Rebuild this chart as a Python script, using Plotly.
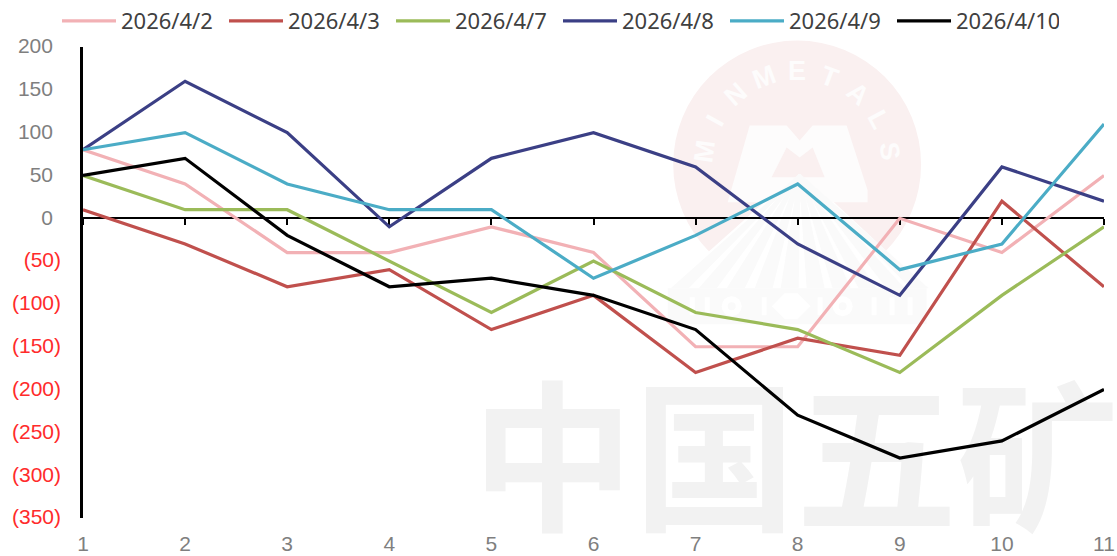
import math
import plotly.graph_objects as go

categories = [1, 2, 3, 4, 5, 6, 7, 8, 9, 10, 11]
d0402 = [80, 40, -40, -40, -10, -40, -150, -150, 0, -40, 50]
d0403 = [10, -30, -80, -60, -130, -90, -180, -140, -160, 20, -80]
d0407 = [50, 10, 10, -50, -110, -50, -110, -130, -180, -90, -10]
d0408 = [80, 160, 100, -10, 70, 100, 60, -30, -90, 60, 20]
d0409 = [80, 100, 40, 10, 10, -70, -20, 40, -60, -30, 110]
d0410 = [50, 70, -20, -80, -70, -90, -130, -230, -280, -260, -200]
series_names = ["2026/4/2", "2026/4/3", "2026/4/7", "2026/4/8", "2026/4/9", "2026/4/10"]
series_values = [d0402, d0403, d0407, d0408, d0409, d0410]
series_colors = ["#F2B1B5", "#C0504D", "#9BBB59", "#3B3F85", "#4BACC6", "#000000"]
y_ticks = [200, 150, 100, 50, 0, -50, -100, -150, -200, -250, -300, -350]

W, H = 1117, 556
L, R, T, B = 83, 1104.5, 46.5, 518
YMIN, YMAX = -350, 200


def px(x):
    return (x - L) / (R - L)


def py(y):
    return (B - y) / (B - T)


def dx(x):
    return 1 + (x - L) / (R - L) * 10


def dy(y):
    return YMIN + (B - y) / (B - T) * (YMAX - YMIN)


def poly(points, fill):
    path = "M " + " L ".join(f"{px(a):.5f},{py(b):.5f}" for a, b in points) + " Z"
    return dict(type="path", path=path, xref="paper", yref="paper", fillcolor=fill,
                line=dict(width=0), layer="below")


def circle(cx, cy, r, fill):
    return dict(type="circle", xref="paper", yref="paper", x0=px(cx - r), x1=px(cx + r),
                y0=py(cy + r), y1=py(cy - r), fillcolor=fill, line=dict(width=0), layer="below")


def rect(x0, y0, x1, y1, fill):
    return poly([(x0, y0), (x1, y0), (x1, y1), (x0, y1)], fill)


PINK, GRAY, MW = "#FAF0F0", "#FAFAFA", "#FDFCFC"
apex = (800, 170)
shapes = [
    circle(797.5, 164, 124, PINK),
    poly([apex, (668, 288), (668, 330), (927, 330), (927, 288)], "#FFFFFF"),
    # M emblem
    poly([(728, 202), (750, 125), (787, 125), (800, 140), (813, 125), (847, 125), (868, 190), (868, 202)], MW),
    poly([(772, 177), (787, 147), (800, 157), (813, 147), (825, 177)], PINK),
]
# fan rays
for i, xb in enumerate([680, 708, 736, 764, 790, 816, 842, 868, 896, 920]):
    shapes.append(poly([(apex[0] - 1, apex[1] + 4), (apex[0] + 1, apex[1] + 4), (xb + 9, 288), (xb - 9, 288)], GRAY))
# base band and its ornaments
shapes.append(rect(668, 288, 927, 324, GRAY))
for cx in [732, 843]:
    shapes.append(circle(cx, 306, 10, "#FFFFFF"))
    shapes.append(circle(cx, 306, 4, GRAY))
shapes.append(poly([(772, 306), (785, 293), (798, 293), (811, 306), (798, 319), (785, 319)], "#FFFFFF"))
for xb in [690, 705, 762, 818, 872, 890, 908]:
    shapes.append(rect(xb, 297, xb + 5, 315, "#FFFFFF"))

annotations = []
letters = "MINMETALS"
for i, ch in enumerate(letters):
    ang = math.radians(-82 + i * 20.5)
    annotations.append(dict(
        text=ch, xref="paper", yref="paper", x=px(797.5 + 93 * math.sin(ang)),
        y=py(164 - 93 * math.cos(ang)), showarrow=False, textangle=math.degrees(ang),
        font=dict(family="Liberation Sans", size=27, color="#FDFCFC", weight=700),
        xanchor="center", yanchor="middle"))

fig = go.Figure()

wm_chars = ["中", "国", "五", "矿"]
wm_x = [dx(v) for v in (553, 715, 877, 1038)]
wm_y = [dy(478)] * 4
fig.add_trace(go.Scatter(
    x=wm_x, y=wm_y, mode="text", text=wm_chars, textposition="middle center", cliponaxis=False,
    textfont=dict(family="Noto Sans CJK SC", size=162, color="#F2F2F2", weight=700),
    showlegend=False, hoverinfo="skip"))

for name, vals, col in zip(series_names, series_values, series_colors):
    fig.add_trace(go.Scatter(x=categories, y=vals, name=name, mode="lines",
                             line=dict(color=col, width=3.2)))

fig.add_trace(go.Scatter(x=[], y=[], xaxis="x2", yaxis="y", showlegend=False, hoverinfo="skip"))


def label(v):
    if v < 0:
        return f'<span style="color:#FF2B2B">({abs(v)})</span>'
    return f'{v}<span style="font-size:29px">&nbsp;</span>'


fig.update_layout(
    width=W, height=H, autosize=False,
    paper_bgcolor="white", plot_bgcolor="rgba(0,0,0,0)",
    margin=dict(l=L, r=W - R, t=T, b=H - B, pad=0, autoexpand=False),
    font=dict(family="Liberation Sans", size=21, color="#7F7F7F"),
    shapes=shapes, annotations=annotations,
    showlegend=True,
    legend=dict(orientation="h", xref="container", yref="container",
                x=57 / W, y=1, xanchor="left", yanchor="top",
                font=dict(family="Noto Sans", size=22, color="#404040"),
                entrywidth=98, entrywidthmode="pixels", itemwidth=54,
                traceorder="normal", bgcolor="rgba(0,0,0,0)"),
    xaxis=dict(range=[1, 11], tickvals=categories, showgrid=False, zeroline=False,
               anchor="free", position=(0 - YMIN) / (YMAX - YMIN), automargin=False,
               showline=True, linecolor="#000000", linewidth=2,
               ticks="outside", ticklen=6, tickwidth=1.5, tickcolor="#000000",
               showticklabels=False, layer="below traces"),
    xaxis2=dict(range=[1, 11], tickvals=categories, ticktext=[str(c) for c in categories],
                overlaying="x", anchor="y", side="bottom", showgrid=False, zeroline=False,
                showline=False, ticks="", ticklabelstandoff=11, automargin=False,
                tickfont=dict(size=21, color="#7F7F7F")),
    yaxis=dict(range=[YMIN, YMAX], tickvals=y_ticks, ticktext=[label(v) for v in y_ticks],
               showgrid=False, zeroline=False, showline=True, linecolor="#000000", linewidth=2.5,
               ticks="", ticklabelstandoff=15, ticklabelshift=-1, layer="below traces", automargin=False,
               tickfont=dict(size=21, color="#7F7F7F")),
)

fig.write_html("out.html", post_script="document.body.style.margin='0';",
               config={"displayModeBar": False})
